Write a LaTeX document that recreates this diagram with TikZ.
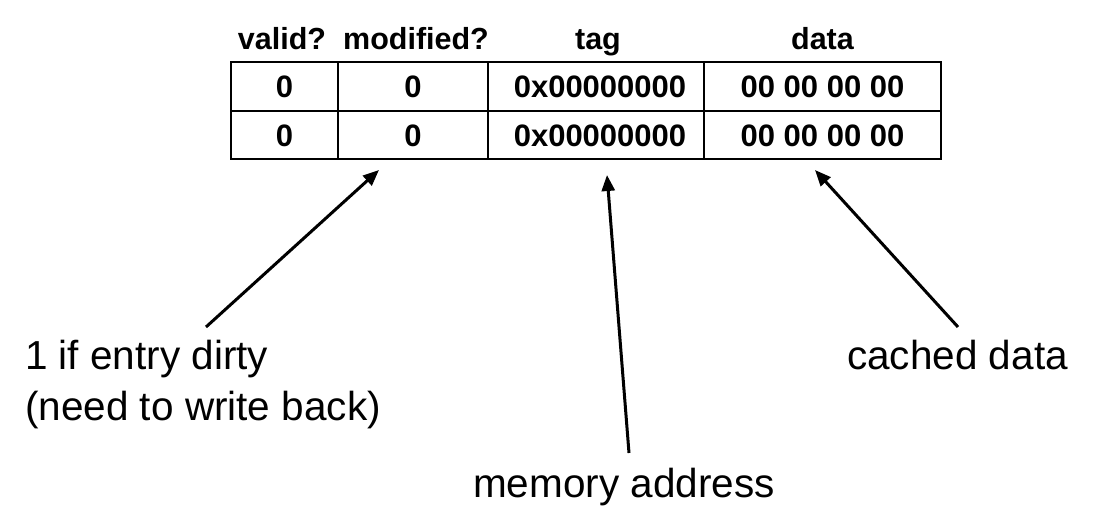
\documentclass[tikz,border=0pt]{standalone}
\usepackage{fontspec}
\setmainfont{Liberation Sans}
\usetikzlibrary{arrows.meta}
\begin{document}
\begin{tikzpicture}[x=1pt,y=-1pt,
  cellline/.style={line width=2pt,draw=black},
  hdr/.style={inner sep=0pt,anchor=base,font=\fontsize{30.5}{36}\selectfont\bfseries},
  cell/.style={inner sep=0pt,anchor=center,font=\fontsize{31}{36}\selectfont\bfseries},
  lbl/.style={inner sep=0pt,font=\fontsize{40.5}{51}\selectfont},
  pointer/.style={line width=3pt,-{Triangle[length=16pt,width=13pt]}}]
\useasboundingbox (0,0) rectangle (1101,525);
% table grid
\draw[cellline] (231,62) rectangle (941,159);
\draw[cellline] (231,111) -- (941,111);
\draw[cellline] (338,62) -- (338,159);
\draw[cellline] (488,62) -- (488,159);
\draw[cellline] (704,62) -- (704,159);
% headers
\node[hdr] (hvalid) at (282,49) {valid?};
\node[hdr] (hmod) at (416,49) {modified?};
\node[hdr] (htag) at (598,49) {tag};
\node[hdr] (hdata) at (822.5,49) {data};
% cells
\node[cell] (v1) at (284.5,87) {0};
\node[cell] (m1) at (413,87) {0};
\node[cell] (t1) at (600,87) {0x00000000};
\node[cell] (d1) at (822.5,87) {00 00 00 00};
\node[cell] (v2) at (284.5,135.5) {0};
\node[cell] (m2) at (413,135.5) {0};
\node[cell] (t2) at (600,135.5) {0x00000000};
\node[cell] (d2) at (822.5,135.5) {00 00 00 00};
% labels
\node[lbl,anchor=north west,align=left] (dirty) at (25,340) {1 if entry dirty\\(need to write back)};
\node[lbl,anchor=base west] (cached) at (847,369) {cached data};
\node[lbl,anchor=base west] (memaddr) at (473,497) {memory address};
% arrow end points
\coordinate (dirtytail) at (206,327);
\coordinate (dirtytip) at (379,170);
\coordinate (addrtail) at (629,453);
\coordinate (addrtip) at (607,175);
\coordinate (datatail) at (958,327);
\coordinate (datatip) at (815,170);
\draw[pointer] (dirtytail) -- (dirtytip);
\draw[pointer] (addrtail) -- (addrtip);
\draw[pointer] (datatail) -- (datatip);
\end{tikzpicture}
\end{document}
